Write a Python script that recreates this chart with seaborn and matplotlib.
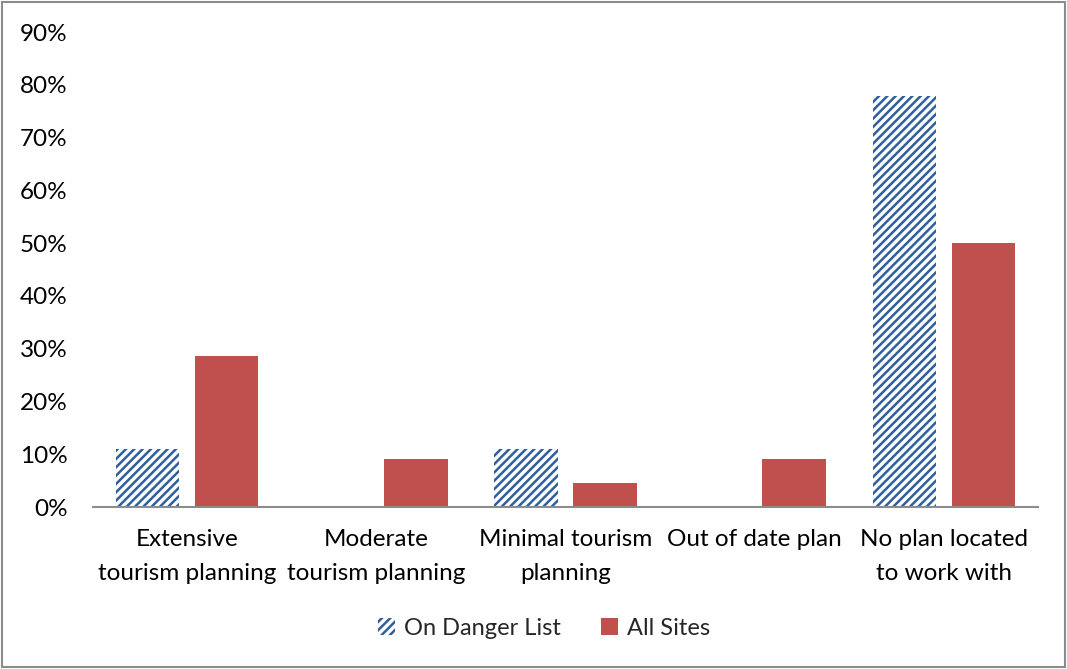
import matplotlib
matplotlib.use("Agg")
import matplotlib.pyplot as plt
import seaborn as sns
import pandas as pd
from matplotlib.patches import Patch, Rectangle
from matplotlib.ticker import PercentFormatter

categories = [
    "Extensive\ntourism planning",
    "Moderate\ntourism planning",
    "Minimal tourism\nplanning",
    "Out of date plan",
    "No plan located\nto work with",
]
danger_list = [0.111, 0.0, 0.111, 0.0, 0.778]
all_sites = [0.286, 0.091, 0.045, 0.091, 0.50]
series_names = ["On Danger List", "All Sites"]

df = pd.DataFrame({
    "category": categories * 2,
    "share": danger_list + all_sites,
    "series": [series_names[0]] * len(categories) + [series_names[1]] * len(categories),
})

sns.set_theme(style="white")
plt.rcParams["font.family"] = ["Lato", "DejaVu Sans"]
plt.rcParams["hatch.linewidth"] = 1.8

blue = "#2F5F9E"
red = "#C0504D"
fs = 17.5

fig = plt.figure(figsize=(10.67, 6.69), dpi=100)
ax = fig.add_axes([0.087, 0.242, 0.886, 0.71])

sns.barplot(data=df, x="category", y="share", hue="series",
            hue_order=series_names, order=categories,
            palette=[blue, red], width=0.836, gap=0.2,
            saturation=1, ax=ax, legend=False)

n = len(categories)
for i, bar in enumerate(ax.patches[:2 * n]):
    if i < n:
        bar.set_facecolor("white")
        bar.set_edgecolor(blue)
        bar.set_hatch("////")
        bar.set_linewidth(0)
    else:
        bar.set_facecolor(red)
        bar.set_edgecolor(red)
        bar.set_linewidth(0)

ax.set_ylim(0, 0.9)
ax.set_yticks([i / 10 for i in range(10)])
ax.yaxis.set_major_formatter(PercentFormatter(1.0, decimals=0))
ax.set_xlim(-0.5, n - 0.5)
ax.set_xlabel("")
ax.set_ylabel("")
ax.tick_params(axis="both", length=0, labelsize=fs, colors="black")
ax.tick_params(axis="x", pad=16)
ax.tick_params(axis="y", pad=18)
for lbl in ax.get_xticklabels():
    lbl.set_linespacing(1.76)

for side in ["top", "right", "left"]:
    ax.spines[side].set_visible(False)
ax.spines["bottom"].set_color("#8C8C8C")
ax.spines["bottom"].set_linewidth(1.5)

handles = [
    Patch(facecolor="white", edgecolor=blue, hatch="////", linewidth=0, label=series_names[0]),
    Patch(facecolor=red, edgecolor=red, linewidth=0, label=series_names[1]),
]
fig.legend(handles=handles, loc="center", bbox_to_anchor=(0.51, 0.061), ncol=2,
           frameon=False, fontsize=17, handlelength=0.7, handleheight=0.7,
           handletextpad=0.4, columnspacing=1.7)

fig.add_artist(Rectangle((0.002, 0.003), 0.996, 0.994, transform=fig.transFigure,
                         fill=False, edgecolor="#8C8C8C", linewidth=1.5))

fig.savefig("out.png", dpi=100, facecolor="white")
